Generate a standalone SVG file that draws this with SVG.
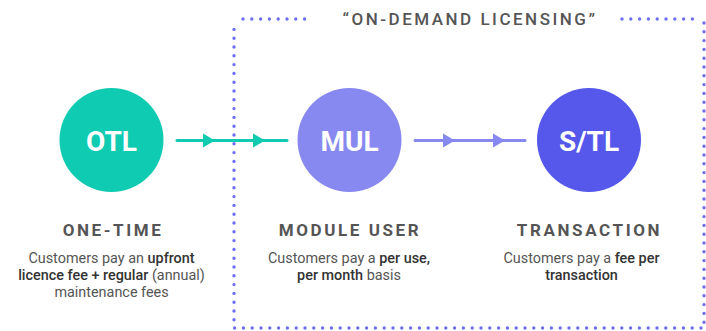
<svg xmlns="http://www.w3.org/2000/svg" xmlns:xlink="http://www.w3.org/1999/xlink" width="706" height="331" viewBox="0 0 706 331">
  <style>
    .node-label { font-family: Roboto, "Liberation Sans", sans-serif; font-weight: 700; font-size: 28px; fill: #ffffff; text-anchor: middle; }
    .heading { font-family: Roboto, "Liberation Sans", sans-serif; font-weight: 700; font-size: 17px; letter-spacing: 2.6px; fill: #555555; text-anchor: middle; }
    .desc { font-family: Roboto, "Liberation Sans", sans-serif; font-weight: 400; font-size: 14.4px; fill: #555555; text-anchor: middle; }
    .desc .b { font-weight: 500; fill: #333333; }
    .title { font-family: Roboto, "Liberation Sans", sans-serif; font-weight: 500; font-size: 17px; letter-spacing: 2.5px; fill: #555555; text-anchor: middle; }
    .dotted { fill: none; stroke: #6e6ef0; stroke-width: 3.4; stroke-linecap: round; stroke-dasharray: 0 8.8; }
    .flow { fill: none; stroke-width: 3; stroke-linecap: round; }
  </style>
  <defs>
    <path id="head" d="M -12 -7 L 0 0 L -12 7 Z"/>
  </defs>

  <!-- on-demand licensing frame -->
  <g id="frame">
    <path class="dotted" d="M 243 19 H 313"/>
    <path class="dotted" d="M 622 19 H 700"/>
    <path class="dotted" d="M 704 23 V 328 H 234 V 21"/>
    <text class="title" x="470" y="25">“ON-DEMAND LICENSING”</text>
  </g>

  <!-- connectors -->
  <g id="connectors">
    <line class="flow" x1="177" y1="140.5" x2="287" y2="140.5" stroke="#10cbb0"/>
    <use xlink:href="#head" transform="translate(215 140.5)" fill="#10cbb0"/>
    <use xlink:href="#head" transform="translate(265 140.5)" fill="#10cbb0"/>
    <line class="flow" x1="415" y1="140.5" x2="525" y2="140.5" stroke="#8888f1"/>
    <use xlink:href="#head" transform="translate(455 140.5)" fill="#8888f1"/>
    <use xlink:href="#head" transform="translate(505 140.5)" fill="#8888f1"/>
  </g>

  <!-- one-time licence -->
  <g id="otl">
    <circle cx="111.5" cy="140" r="52" fill="#0ecbb2"/>
    <text class="node-label" x="111.5" y="151">OTL</text>
    <text class="heading" x="113" y="236">ONE-TIME</text>
    <text class="desc" x="111.5" y="263">Customers pay an <tspan class="b">upfront</tspan></text>
    <text class="desc" x="111.5" y="280"><tspan class="b">licence fee + regular</tspan> (annual)</text>
    <text class="desc" x="111.5" y="297">maintenance fees</text>
  </g>

  <!-- module user licence -->
  <g id="mul">
    <circle cx="349.5" cy="140" r="52" fill="#8888f1"/>
    <text class="node-label" x="349.5" y="151">MUL</text>
    <text class="heading" x="350" y="236">MODULE USER</text>
    <text class="desc" x="349" y="263">Customers pay a <tspan class="b">per use,</tspan></text>
    <text class="desc" x="349" y="280"><tspan class="b">per month</tspan> basis</text>
  </g>

  <!-- transaction licence -->
  <g id="stl">
    <circle cx="589" cy="140" r="52" fill="#5558ea"/>
    <text class="node-label" x="589" y="151">S/TL</text>
    <text class="heading" x="589.5" y="236">TRANSACTION</text>
    <text class="desc" x="581.5" y="263">Customers pay a <tspan class="b">fee per</tspan></text>
    <text class="desc" x="581.5" y="280"><tspan class="b">transaction</tspan></text>
  </g>
</svg>
